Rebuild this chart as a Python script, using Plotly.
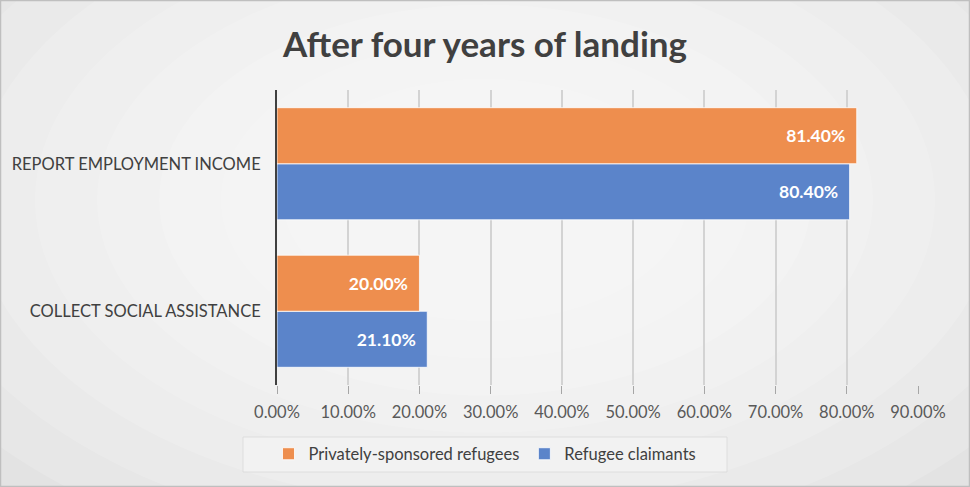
import plotly.graph_objects as go

categories = ["COLLECT SOCIAL ASSISTANCE", "REPORT EMPLOYMENT INCOME"]
private_sponsored = [0.200, 0.814]
refugee_claimants = [0.211, 0.804]
series_names = ["Privately-sponsored refugees", "Refugee claimants"]
tick_vals = [0, 0.1, 0.2, 0.3, 0.4, 0.5, 0.6, 0.7, 0.8, 0.9]

W, H = 970, 487
ML, MR, MT, MB = 277, 52, 90, 102
PW, PH = W - ML - MR, H - MT - MB

def px_x(px):
    return (px - ML) / PW

def px_y(py):
    return (H - MB - py) / PH

FONT = "Lato"
PAD = "\u00a0\u00a0"

fig = go.Figure()
fig.add_trace(go.Bar(
    y=categories, x=refugee_claimants, name=series_names[1], orientation="h",
    marker=dict(color="#5B84CA", line=dict(color="rgba(255,255,255,0.8)", width=1)),
    text=[f"{v:.2%}{PAD}" for v in refugee_claimants], textposition="inside",
    insidetextanchor="end", textfont=dict(color="white", size=17.5, family=FONT, weight="bold"),
))
fig.add_trace(go.Bar(
    y=categories, x=private_sponsored, name=series_names[0], orientation="h",
    marker=dict(color="#EE8E4E", line=dict(color="rgba(255,255,255,0.8)", width=1)),
    text=[f"{v:.2%}{PAD}" for v in private_sponsored], textposition="inside",
    insidetextanchor="end", textfont=dict(color="white", size=17.5, family=FONT, weight="bold"),
))

shapes = []
# radial-like background gradient
cx, cy = 485, 200
n = 10
for i in range(n):
    rx = 760 - i * 62
    ry = rx * 0.6
    shapes.append(dict(
        type="circle", xref="paper", yref="paper", layer="below",
        x0=px_x(cx - rx), x1=px_x(cx + rx), y0=px_y(cy + ry), y1=px_y(cy - ry),
        fillcolor="rgba(255,255,255,0.15)", line=dict(width=0),
    ))
# legend box
shapes.append(dict(
    type="rect", xref="paper", yref="paper", layer="below",
    x0=px_x(243), x1=px_x(727), y0=px_y(472), y1=px_y(437),
    fillcolor="rgba(242,242,242,0.9)", line=dict(color="rgba(217,217,217,0.8)", width=1),
))
# outer border
shapes.append(dict(
    type="rect", xref="paper", yref="paper", layer="above",
    x0=px_x(0.5), x1=px_x(W - 0.5), y0=px_y(H - 0.5), y1=px_y(0.5),
    line=dict(color="#BFBFBF", width=1.5),
))

fig.update_layout(
    width=W, height=H,
    margin=dict(l=ML, r=MR, t=MT, b=MB, autoexpand=False),
    paper_bgcolor="#DADADA",
    plot_bgcolor="rgba(0,0,0,0)",
    barmode="group", bargap=0.24, bargroupgap=0,
    shapes=shapes,
    title=dict(text="<b>After four years of landing</b>", x=0.5, xref="container",
               y=(H - 45) / H, yref="container", xanchor="center", yanchor="middle",
               font=dict(family=FONT, size=35, color="#404040")),
    legend=dict(orientation="h", traceorder="reversed", xref="container", yref="container",
                x=0.5, xanchor="center", y=(H - 454) / H, yanchor="middle",
                bgcolor="rgba(0,0,0,0)", font=dict(family=FONT, size=16.5, color="#404040"),
                itemwidth=30, entrywidth=0),
    font=dict(family=FONT, color="#595959"),
    showlegend=True,
)
fig.update_xaxes(range=[0, 0.9], tickvals=tick_vals, tickformat=".2%",
                 showgrid=True, gridcolor="#D3D3D3", gridwidth=1.5,
                 ticks="outside", ticklen=8, tickcolor="#A6A6A6", tickwidth=1,
                 ticklabelstandoff=4, automargin=False,
                 tickfont=dict(size=16.5, color="#595959", family=FONT),
                 zeroline=False, showline=False, fixedrange=True)
fig.update_yaxes(showline=True, linecolor="#404040", linewidth=2,
                 ticks="", ticklabelstandoff=11, automargin=False,
                 tickfont=dict(size=16.5, color="#404040", family=FONT),
                 showgrid=False, fixedrange=True)

fig.write_html("out.html", config={"displayModeBar": False},
               post_script="document.body.style.margin='0';")
